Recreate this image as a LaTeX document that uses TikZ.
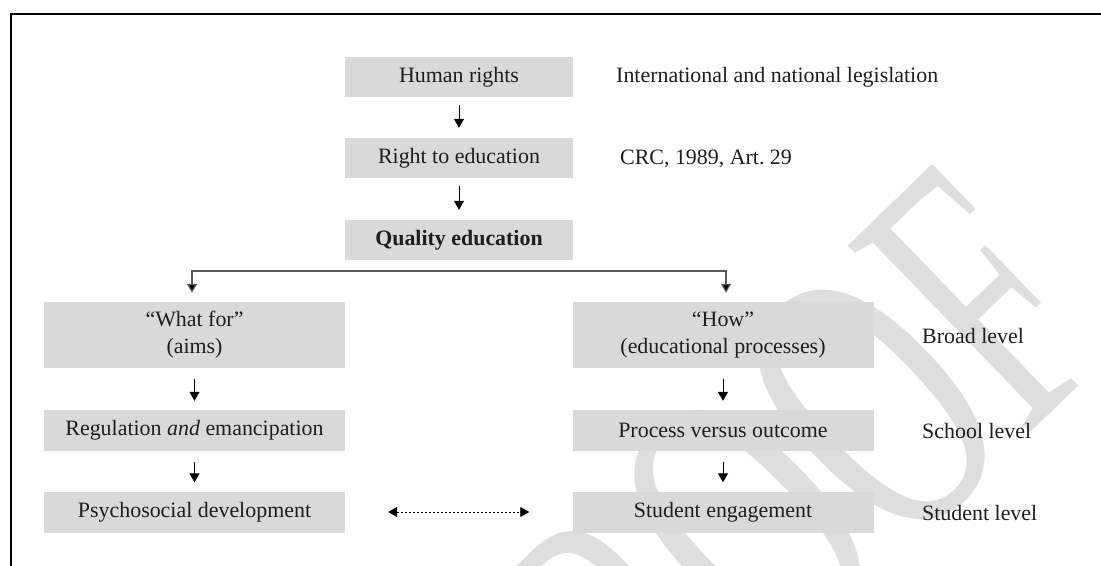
\documentclass[tikz,border=0pt]{standalone}
\usepackage{fontspec}
\setmainfont{Liberation Serif}
\usetikzlibrary{arrows.meta}
\definecolor{boxgray}{HTML}{D9D9D9}
\definecolor{wmgray}{HTML}{DEDEDE}
\definecolor{txt}{HTML}{1E1E1E}
\begin{document}
\begin{tikzpicture}[x=1bp,y=-1bp,
  box/.style={fill=boxgray, draw=none, inner sep=0pt, align=center, text=txt,
    font=\fontsize{22}{27}\selectfont},
  topbox/.style={box, minimum width=228bp, minimum height=40bp},
  colbox/.style={box, minimum width=301bp, minimum height=41bp},
  tallbox/.style={box, minimum width=301bp, minimum height=66bp},
  lbl/.style={anchor=west, inner sep=0pt, text=txt, font=\fontsize{22}{27}\selectfont},
  arr/.style={line width=1bp, -{Triangle[width=10bp,length=9bp]}},
  brk/.style={line width=1.2bp, draw=black!65, {Triangle[width=10bp,length=9bp,fill=black]}-{Triangle[width=10bp,length=9bp,fill=black]}},
  dbl/.style={line width=0.8bp, dash pattern=on 2bp off 2bp,
    {Triangle[width=10bp,length=9bp]}-{Triangle[width=10bp,length=9bp]}}
]
\useasboundingbox (0,0) rectangle (1101,566);
\clip (0,0) rectangle (1101,566);
% watermark
\node[anchor=base west, rotate=44, inner sep=0pt, text=wmgray,
  font=\fontsize{400}{400}\selectfont] (wm) at (566,882) {\scalebox{0.6}[1]{PROOF}};
% frame
\draw[line width=2bp] (11,566) -- (11,14) -- (1101,14);
% top column
\node[topbox] (hr) at (459,77) {Human rights};
\node[topbox] (rte) at (459,158) {Right to education};
\node[topbox] (qe) at (459,240) {\textbf{Quality education}};
% two columns
\node[tallbox] (wf) at (194.5,335) {“What for”\\(aims)};
\node[tallbox] (how) at (723,335) {“How”\\(educational processes)};
\node[colbox] (reg) at (194.5,430.5) {Regulation \textit{and} emancipation};
\node[colbox] (pvo) at (723,430.5) {Process versus outcome};
\node[colbox] (psy) at (194.5,512) {Psychosocial development};
\node[colbox] (se) at (723,512) {Student engagement};
% side labels
\node[lbl] (l1) at (616,77) {International and national legislation};
\node[lbl] (l2) at (620,159) {CRC, 1989, Art.\ 29};
\node[lbl] (l3) at (922,336) {Broad level};
\node[lbl] (l4) at (922,431) {School level};
\node[lbl] (l5) at (922,513) {Student level};
% arrows
\draw[arr] ([yshift=-8bp]hr.south) -- ([yshift=10bp]rte.north);
\draw[arr] ([yshift=-8bp]rte.south) -- ([yshift=10bp]qe.north);
\draw[arr] ([yshift=-11bp]wf.south) -- ([yshift=9bp]reg.north);
\draw[arr] ([yshift=-11bp]how.south) -- ([yshift=9bp]pvo.north);
\draw[arr] ([yshift=-11bp]reg.south) -- ([yshift=9bp]psy.north);
\draw[arr] ([yshift=-11bp]pvo.south) -- ([yshift=9bp]se.north);
% bracket
\coordinate (bl) at (192,271);
\coordinate (br) at (726,271);
\coordinate (wft) at ([yshift=9bp]wf.north);
\coordinate (hwt) at ([yshift=9bp]how.north);
\draw[brk] (wft -| bl) -- (bl) -- (br) -- (hwt -| br);
% dotted double arrow
\draw[dbl, shorten <=43bp, shorten >=43bp] (psy.east) -- (se.west);
\end{tikzpicture}
\end{document}
